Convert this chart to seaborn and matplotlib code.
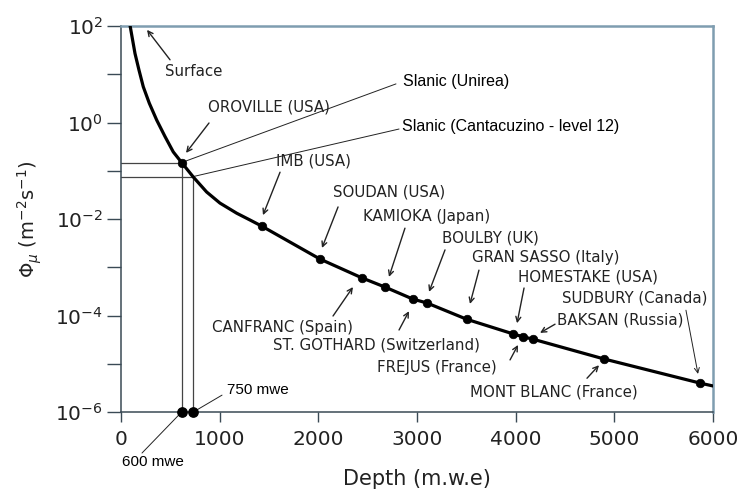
import matplotlib
matplotlib.use('Agg')
import matplotlib.pyplot as plt
from matplotlib.ticker import FixedLocator, FuncFormatter
import numpy as np
import pandas as pd
import seaborn as sns

# curve (depth in m.w.e, log10 of flux)
curve_depth = [91, 142, 182, 226, 287, 362, 446, 530, 615, 733, 868, 1003, 1173,
               1307, 1429, 2017, 2442, 2675, 2959, 3101, 3507, 3973, 4074, 4175,
               4895, 5868, 6000]
curve_logflux = [2.02, 1.43, 1.09, 0.74, 0.40, 0.05, -0.29, -0.61, -0.83, -1.13,
                 -1.44, -1.67, -1.88, -2.02, -2.15, -2.83, -3.22, -3.41, -3.66,
                 -3.74, -4.08, -4.38, -4.44, -4.49, -4.90, -5.40, -5.46]

# laboratory dots on the curve
site_depth = [615, 1429, 2017, 2442, 2675, 2959, 3101, 3507, 3973, 4074, 4175, 4895, 5868]
site_logflux = [-0.83, -2.15, -2.83, -3.22, -3.41, -3.66, -3.74, -4.08, -4.38,
                -4.44, -4.49, -4.90, -5.40]

# Slanic levels (600 and 750 mwe)
slanic_depth = [615, 733]
slanic_logflux = [-0.83, -1.12]
slanic_names = ['Slanic (Unirea)', 'Slanic (Cantacuzino - level 12)']
slanic_text_x = [2858, 2848]
slanic_text_log = [0.84, -0.09]
slanic_line_end_x = [2787, 2818]
slanic_line_end_log = [0.80, -0.135]
mwe_names = ['600 mwe', '750 mwe']
mwe_text_x = [10, 1074]
mwe_text_log = [-7.04, -5.54]
mwe_line_end_x = [213, 1024]
mwe_line_end_log = [-6.85, -5.65]

# labels with arrows: text anchor (left, centre) and arrow tail/head
lab_names = ['Surface', 'OROVILLE (USA)', 'IMB (USA)', 'SOUDAN (USA)', 'KAMIOKA (Japan)',
             'BOULBY (UK)', 'GRAN SASSO (Italy)', 'HOMESTAKE (USA)', 'SUDBURY (Canada)',
             'BAKSAN (Russia)', 'CANFRANC (Spain)', 'ST. GOTHARD (Switzerland)',
             'FREJUS (France)', 'MONT BLANC (France)']
lab_text_x = [446, 882, 1571, 2149, 2453, 3253, 3557, 4024, 4470, 4419, 922, 1541, 2595, 3537]
lab_text_log = [1.05, 0.32, -0.80, -1.44, -1.94, -2.39, -2.79, -3.20, -3.64, -4.09,
                -4.24, -4.61, -5.07, -5.59]
arrow_tail_x = [497, 892, 1612, 2200, 2878, 3284, 3628, 4085, 5726, 4399, 2149, 2818, 3943, 4723]
arrow_tail_log = [1.30, -0.01, -1.03, -1.75, -2.19, -2.64, -3.06, -3.43, -3.89, -4.18,
                  -4.01, -4.30, -4.92, -5.30]
arrow_head_x = [264, 659, 1439, 2037, 2716, 3122, 3537, 4014, 5848, 4247, 2351, 2919, 4024, 4845]
arrow_head_log = [1.92, -0.63, -1.92, -2.60, -3.20, -3.51, -3.76, -4.16, -5.21, -4.36,
                  -3.41, -3.91, -4.61, -5.03]

y_exponents = [-6, -5, -4, -3, -2, -1, 0, 1, 2]

curve = pd.DataFrame({'depth': curve_depth, 'flux': 10.0 ** np.array(curve_logflux)})
sites = pd.DataFrame({'depth': site_depth, 'flux': 10.0 ** np.array(site_logflux)})

sns.set_theme(style="ticks")
plt.rcParams['font.family'] = ['DejaVu Sans']
ink = '#222222'

fig = plt.figure(figsize=(7.4, 5.04), dpi=100)
ax = fig.add_axes([0.1635, 0.1825, 0.8, 0.7659])
ax.set_yscale('log')

# reference lines for the Slanic levels
for d, lf in zip(slanic_depth, slanic_logflux):
    ax.plot([0, d], [10.0 ** lf, 10.0 ** lf], color='#444444', lw=0.9, zorder=1)
    ax.plot([d, d], [1e-6, 10.0 ** lf], color='#444444', lw=0.9, zorder=1)

sns.lineplot(data=curve, x='depth', y='flux', sort=False, estimator=None,
             color='black', lw=2.3, ax=ax, zorder=3)
sns.scatterplot(data=sites, x='depth', y='flux', color='black', s=38,
                edgecolor='black', ax=ax, zorder=4)
ax.scatter(slanic_depth, [1e-6, 1e-6], s=45, color='black', zorder=5, clip_on=False)

for i, name in enumerate(slanic_names):
    ax.plot([slanic_depth[i], slanic_line_end_x[i]],
            [10.0 ** slanic_logflux[i], 10.0 ** slanic_line_end_log[i]],
            color=ink, lw=0.7, zorder=2)
    ax.text(slanic_text_x[i], 10.0 ** slanic_text_log[i], name, ha='left', va='center',
            fontsize=11.5, family=['Liberation Sans'], color='black')

for i, name in enumerate(mwe_names):
    ax.plot([slanic_depth[i], mwe_line_end_x[i]], [1e-6, 10.0 ** mwe_line_end_log[i]],
            color=ink, lw=0.7, zorder=2, clip_on=False)
    ax.text(mwe_text_x[i], 10.0 ** mwe_text_log[i], name, ha='left', va='center',
            fontsize=11, family=['Liberation Sans'], color='black', clip_on=False)

for i, name in enumerate(lab_names):
    ax.text(lab_text_x[i], 10.0 ** lab_text_log[i], name, ha='left', va='center',
            fontsize=10.8, color=ink)
    lw = 0.7 if name.startswith('SUDBURY') else 1.0
    ax.annotate('', xy=(arrow_head_x[i], 10.0 ** arrow_head_log[i]),
                xytext=(arrow_tail_x[i], 10.0 ** arrow_tail_log[i]),
                arrowprops=dict(arrowstyle='->', color=ink, lw=lw,
                                shrinkA=0, shrinkB=0, mutation_scale=9))

ax.set_xlim(0, 6000)
ax.set_ylim(1e-6, 1e2)
ax.set_xticks([0, 1000, 2000, 3000, 4000, 5000, 6000])
ax.xaxis.set_minor_locator(FixedLocator([]))
ax.yaxis.set_major_locator(FixedLocator([10.0 ** e for e in y_exponents]))
ax.yaxis.set_minor_locator(FixedLocator([]))
ax.yaxis.set_major_formatter(FuncFormatter(
    lambda v, pos: r'$10^{%d}$' % round(np.log10(v)) if round(np.log10(v)) % 2 == 0 else ''))

ax.tick_params(axis='x', direction='out', length=7, width=1, color='#3a4a55',
               labelsize=14.5, pad=6, labelcolor=ink)
ax.tick_params(axis='y', direction='out', length=10, width=1, color='#3a4a55',
               labelsize=14.5, pad=3, labelcolor=ink)

ax.set_xlabel('Depth (m.w.e)', fontsize=15, color=ink, labelpad=14)
ax.set_ylabel(r'$\Phi_\mu$ (m$^{-2}$s$^{-1}$)', fontsize=14, color=ink, labelpad=8)

for side in ['left', 'bottom']:
    ax.spines[side].set_color('#3a4a55')
    ax.spines[side].set_linewidth(1.1)
for side in ['top', 'right']:
    ax.spines[side].set_color('#7f9db0')
    ax.spines[side].set_linewidth(1.8)

plt.savefig('out.png', dpi=100)
plt.close()
